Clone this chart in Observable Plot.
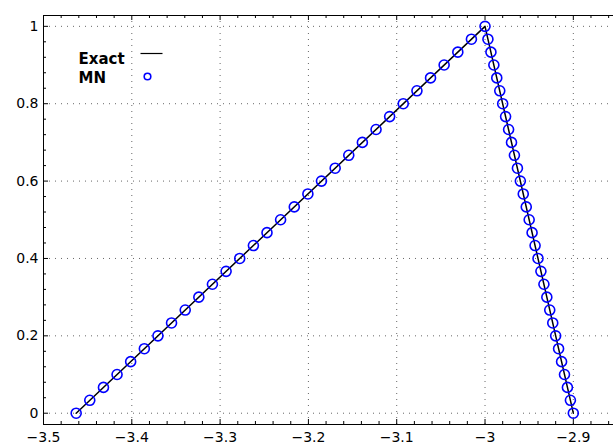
<!DOCTYPE html>
<html><head><meta charset="utf-8">
<script src="https://cdn.jsdelivr.net/npm/d3@7"></script>
<script src="https://cdn.jsdelivr.net/npm/@observablehq/plot@0.6"></script>
<style>body{margin:0;background:#fff} svg{display:block}</style>
</head><body><div id="chart"></div>
<script>
const xTicks = [-3.5, -3.4, -3.3, -3.2, -3.1, -3, -2.9];
const yTicks = [0, 0.2, 0.4, 0.6, 0.8, 1];
const xMinor = [-3.48, -3.46, -3.44, -3.42, -3.38, -3.36, -3.34, -3.32, -3.28, -3.26, -3.24, -3.22,
  -3.18, -3.16, -3.14, -3.12, -3.08, -3.06, -3.04, -3.02, -2.98, -2.96, -2.94, -2.92, -2.88, -2.86];
const yMinor = [0.04, 0.08, 0.12, 0.16, 0.24, 0.28, 0.32, 0.36, 0.44, 0.48, 0.52, 0.56,
  0.64, 0.68, 0.72, 0.76, 0.84, 0.88, 0.92, 0.96];
const xDomain = [-3.5, -2.8545];
const yDomain = [-0.0292, 1.028];

const exactX = [-3.463, -3, -2.9];
const exactY = [0, 1, 0];

const mnX = [-3.463, -3.4476, -3.4321, -3.4167, -3.4013, -3.3858, -3.3704, -3.355, -3.3395, -3.3241,
  -3.3087, -3.2932, -3.2778, -3.2623, -3.2469, -3.2315, -3.216, -3.2006, -3.1852, -3.1697,
  -3.1543, -3.1389, -3.1234, -3.108, -3.0926, -3.0771, -3.0617, -3.0463, -3.0308, -3.0154, -3.0,
  -2.9967, -2.9933, -2.99, -2.9867, -2.9833, -2.98, -2.9767, -2.9733, -2.97, -2.9667,
  -2.9633, -2.96, -2.9567, -2.9533, -2.95, -2.9467, -2.9433, -2.94, -2.9367, -2.9333,
  -2.93, -2.9267, -2.9233, -2.92, -2.9167, -2.9133, -2.91, -2.9067, -2.9033, -2.9];
const mnY = [0, 0.0333, 0.0667, 0.1, 0.1333, 0.1667, 0.2, 0.2333, 0.2667, 0.3,
  0.3333, 0.3667, 0.4, 0.4333, 0.4667, 0.5, 0.5333, 0.5667, 0.6, 0.6333,
  0.6667, 0.7, 0.7333, 0.7667, 0.8, 0.8333, 0.8667, 0.9, 0.9333, 0.9667, 1,
  0.9667, 0.9333, 0.9, 0.8667, 0.8333, 0.8, 0.7667, 0.7333, 0.7, 0.6667,
  0.6333, 0.6, 0.5667, 0.5333, 0.5, 0.4667, 0.4333, 0.4, 0.3667, 0.3333,
  0.3, 0.2667, 0.2333, 0.2, 0.1667, 0.1333, 0.1, 0.0667, 0.0333, 0];

const legendLabels = ["Exact", "MN"];

const W = 613, H = 448, mL = 43, mR = 0, mT = 15, mB = 24;
const fW = W - mL - mR, fH = H - mT - mB;

const exact = exactX.map((x, i) => ({x, y: exactY[i]}));
const mn = mnX.map((x, i) => ({x, y: mnY[i]}));
const fmt = d => String(d).replace("-", "\u2212");

const lineSymbol = {draw(ctx) { ctx.moveTo(-11, 0); ctx.lineTo(11, 0); }};

const plot = Plot.plot({
  width: W, height: H,
  marginLeft: mL, marginRight: mR, marginTop: mT, marginBottom: mB,
  style: {fontFamily: "DejaVu Sans, sans-serif", fontSize: "14px", background: "#fff", color: "#000"},
  x: {domain: xDomain, label: null},
  y: {domain: yDomain, label: null},
  marks: [
    Plot.gridX(xTicks, {stroke: "#000", strokeOpacity: 0.6, strokeDasharray: "1,5"}),
    Plot.gridY(yTicks, {stroke: "#000", strokeOpacity: 0.6, strokeDasharray: "1,5"}),
    Plot.ruleY([yDomain[1]], {stroke: "#000"}),
    Plot.ruleY([yDomain[0]], {stroke: "#000"}),
    Plot.ruleX([xDomain[0]], {stroke: "#000"}),
    Plot.tickX(xTicks, {x: d => d, insetTop: fH - 5, stroke: "#000"}),
    Plot.tickX(xTicks, {x: d => d, insetBottom: fH - 5, stroke: "#000"}),
    Plot.tickX(xMinor, {x: d => d, insetTop: fH - 3, stroke: "#000"}),
    Plot.tickX(xMinor, {x: d => d, insetBottom: fH - 3, stroke: "#000"}),
    Plot.tickY(yTicks, {y: d => d, insetRight: fW - 5, stroke: "#000"}),
    Plot.tickY(yMinor, {y: d => d, insetRight: fW - 3, stroke: "#000"}),
    Plot.axisX(xTicks, {tickSize: 0, tickPadding: 8, tickFormat: fmt, fontSize: 14, label: null}),
    Plot.axisY(yTicks, {tickSize: 0, tickPadding: 5, tickFormat: d => String(d), fontSize: 14, label: null}),
    Plot.line(exact, {x: "x", y: "y", stroke: "#000", strokeWidth: 1.5}),
    Plot.dot(mn, {x: "x", y: "y", r: 5, stroke: "#0000ff", strokeWidth: 1.6, fill: "none"}),
    Plot.text([legendLabels[0]], {text: d => d, frameAnchor: "top-left", dx: 35, dy: 38, textAnchor: "start", fontWeight: "bold", fontSize: 15}),
    Plot.text([legendLabels[1]], {text: d => d, frameAnchor: "top-left", dx: 35, dy: 57, textAnchor: "start", fontWeight: "bold", fontSize: 15}),
    Plot.dot([0], {frameAnchor: "top-left", dx: 108, dy: 38, symbol: lineSymbol, stroke: "#000", strokeWidth: 1.2, fill: "none"}),
    Plot.dot([0], {frameAnchor: "top-left", dx: 104, dy: 61, r: 3.3, stroke: "#0000ff", strokeWidth: 1.6, fill: "none"})
  ]
});
document.getElementById("chart").appendChild(plot);
</script>
</body></html>
